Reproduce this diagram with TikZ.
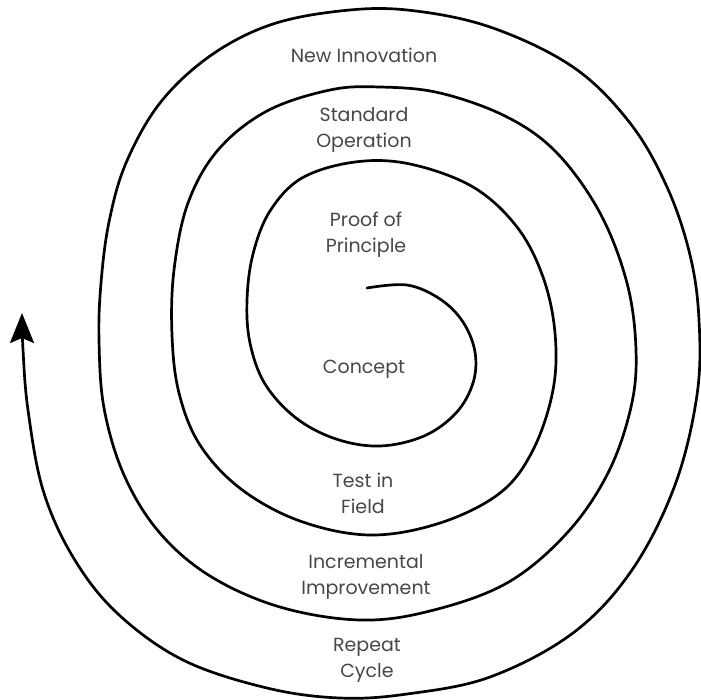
\documentclass[tikz,border=0pt]{standalone}
\usepackage{fontspec}
\setmainfont{Poppins}
\usetikzlibrary{arrows.meta}

\begin{document}
\begin{tikzpicture}[x=1pt,y=-1pt,
  stage/.style={font=\fontsize{19}{26}\selectfont, text=black!72,
                align=center, inner sep=0pt},
  spiral/.style={line width=2.7pt, black, line cap=round}]
\useasboundingbox (0,0) rectangle (701,699);

% the growth spiral, wound clockwise from the centre outwards
\coordinate (start) at (367,288);
\coordinate (tip) at (22,313);
\draw[spiral, -{Stealth[length=30pt,width=24pt,inset=5pt]}]
  plot[smooth, tension=0.6] coordinates {
  (367,288) (407,285) (440,299) (463,322) (475,352) (473,383) (456,413)
  (424,436) (380,446) (336,439) (296,418) (265,384) (250,343) (247,300)
  (253,254) (270,211) (302,178) (355,162) (410,164) (473,187) (517,227)
  (543,277) (555,333) (553,390) (533,450) (500,493) (440,523) (370,535)
  (300,521) (241,489) (200,445) (179,393) (172,335) (174,270) (188,203)
  (218,150) (267,111) (330,90) (380,87) (440,93) (507,117) (557,153)
  (600,213) (627,283) (636,350) (631,407) (608,473) (567,533) (507,583)
  (430,611) (360,620) (280,607) (210,576) (159,532) (124,475) (104,408)
  (99,340) (101,283) (109,222) (126,163) (160,103) (210,56) (270,25)
  (340,11) (407,10) (490,27) (573,67) (630,123) (667,187) (690,255)
  (699,320) (697,395) (675,485) (632,570) (573,633) (490,677) (407,694)
  (340,698) (267,688) (183,660) (117,613) (73,557) (43,490) (28,410)
  (23,350) (22,313)};

% stage labels between the turns
\node[stage] (innov)   at (364,55)  {New Innovation};
\node[stage] (std)     at (364,130) {Standard\\Operation};
\node[stage] (proof)   at (366,235) {Proof of\\Principle};
\node[stage] (concept) at (364,369) {Concept};
\node[stage] (test)    at (363,493) {Test in\\Field};
\node[stage] (incr)    at (366,577) {Incremental\\Improvement};
\node[stage] (repeat)  at (367,660) {Repeat\\Cycle};
\end{tikzpicture}
\end{document}
